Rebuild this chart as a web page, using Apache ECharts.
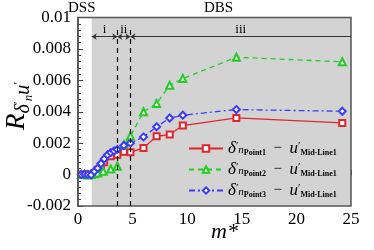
<!DOCTYPE html>
<html><head><meta charset="utf-8">
<script src="https://cdn.jsdelivr.net/npm/echarts@6/dist/echarts.min.js"></script>
<style>html,body{margin:0;padding:0;background:#fff}#c{width:374px;height:250px}</style>
</head><body><div id="c"></div>
<script>
const xTicks = [0, 5, 10, 15, 20, 25];
const yTicks = [-0.002, 0, 0.002, 0.004, 0.006, 0.008, 0.01];
const seriesNames = ['Point1', 'Point2', 'Point3'];
const mStarRed = [0.3,0.6,0.9,1.2,1.5,1.8,2.1,2.4,3.0,3.6,4.2,4.8,6.0,7.2,8.4,9.6,14.5,24.2];
const redVals  = [0,0,0.00001,0,0.0001,0.0003,0.0005,0.00078,0.00117,0.00127,0.00145,0.00142,0.0017,0.00244,0.00255,0.00312,0.00361,0.00329];
const mStarGreen = [0.3,0.6,0.9,1.2,1.5,1.8,2.3,3.0,3.6,4.2,4.8,6.0,7.2,8.4,9.6,14.5,24.2];
const greenVals  = [0,0,-0.00002,0,0.00005,0.0001,0.00021,0.00036,0.00053,0.00191,0.00245,0.004,0.00452,0.00569,0.00611,0.00747,0.00718];
const mStarBlue = [0.3,0.6,0.9,1.2,1.5,1.8,2.1,2.4,2.7,3.0,3.3,3.6,4.2,4.8,6.0,7.2,8.4,9.6,14.5,24.2];
const blueVals  = [0,0.00002,0,-0.00002,0.0002,0.0004,0.0007,0.001,0.00125,0.0014,0.0015,0.0016,0.00185,0.002,0.0024,0.00304,0.0036,0.00378,0.00414,0.00403];
const regionStart = 1.26;
const regionBounds = [3.6, 4.8];
const regionLabels = ['i', 'ii', 'iii'];
const arrowLevel = 0.00878;

const SERIF = 'Liberation Serif';
const zip = (xs, ys) => xs.map((x, i) => [x, ys[i]]);
const fmt = v => String(parseFloat(v.toFixed(4)));

const legendRich = {
  d: {fontFamily: SERIF, fontStyle: 'italic', fontSize: 17, lineHeight: 16, color: '#000'},
  pr: {fontFamily: SERIF, fontSize: 11, lineHeight: 10, color: '#000', verticalAlign: 'top'},
  n: {fontFamily: SERIF, fontStyle: 'italic', fontSize: 11, lineHeight: 10, color: '#000', verticalAlign: 'bottom', padding: [0, 0, 1, 0]},
  s: {fontFamily: SERIF, fontWeight: 'bold', fontSize: 8, lineHeight: 7, color: '#000', verticalAlign: 'bottom'},
  m: {fontFamily: SERIF, fontSize: 15, lineHeight: 16, color: '#000'},
  u: {fontFamily: SERIF, fontStyle: 'italic', fontSize: 17, lineHeight: 16, color: '#000'},
  s2: {fontFamily: SERIF, fontWeight: 'bold', fontSize: 8, lineHeight: 7, color: '#000', verticalAlign: 'bottom'}
};

const yNameRich = {
  R: {fontFamily: SERIF, fontStyle: 'italic', fontSize: 27, lineHeight: 24, color: '#000', verticalAlign: 'top'},
  d: {fontFamily: SERIF, fontStyle: 'italic', fontSize: 20, lineHeight: 18, color: '#000', verticalAlign: 'top', padding: [11, 0, 0, 0]},
  p: {fontFamily: SERIF, fontSize: 13, lineHeight: 12, color: '#000', verticalAlign: 'top', padding: [9, 0, 0, 0]},
  n: {fontFamily: SERIF, fontStyle: 'italic', fontSize: 13, lineHeight: 12, color: '#000', verticalAlign: 'top', padding: [19, 0, 0, 0]},
  u: {fontFamily: SERIF, fontStyle: 'italic', fontSize: 20, lineHeight: 18, color: '#000', verticalAlign: 'top', padding: [11, 0, 0, 0]}
};

const colors = ['#e0262b', '#22cc22', '#3b3bff'];

const chart = echarts.init(document.getElementById('c'));
chart.setOption({
  animation: false,
  grid: {left: 78, right: 23, top: 17.5, bottom: 44, show: true, z: 5,
    backgroundColor: 'transparent', borderColor: '#555', borderWidth: 1.5,
    containLabel: false, outerBoundsMode: 'none'},
  xAxis: {
    type: 'value', min: 0, max: 25, interval: 5,
    axisLine: {lineStyle: {color: '#444', width: 1.5}},
    axisTick: {inside: true, length: 5, lineStyle: {color: '#444'}},
    minorTick: {show: true, splitNumber: 5, length: 3, lineStyle: {color: '#444'}},
    splitLine: {show: false},
    axisLabel: {fontFamily: SERIF, fontSize: 17, color: '#000', margin: 5,
      formatter: v => xTicks.includes(v) ? String(v) : ''},
    name: 'm*', nameLocation: 'middle', nameGap: 15, nameMoveOverlap: false,
    nameTextStyle: {fontFamily: SERIF, fontStyle: 'italic', fontSize: 22, color: '#000', padding: [0, 0, 0, 20]}
  },
  yAxis: {
    type: 'value', min: -0.002, max: 0.01, interval: 0.002,
    axisLine: {lineStyle: {color: '#444', width: 1.5}},
    axisTick: {inside: true, length: 5, lineStyle: {color: '#444'}},
    minorTick: {show: true, splitNumber: 5, length: 3, lineStyle: {color: '#444'}},
    splitLine: {show: false},
    axisLabel: {fontFamily: SERIF, fontSize: 17, color: '#000', margin: 7,
      formatter: v => fmt(v)}
  },
  legend: {
    orient: 'vertical', left: 184, top: 140, itemWidth: 34, itemHeight: 8, itemGap: 4, padding: [0, 0, 0, 4],
    data: seriesNames,
    formatter: name => `{d|δ}{pr|′}{n|n}{s|${name}}{m|  −  }{u|u}{pr|′}{s2|Mid-Line1}`,
    textStyle: {rich: legendRich}
  },
  graphic: [
    {type: 'text', left: 68, top: 1, style: {text: 'DSS', font: '15px "Liberation Serif"', fill: '#000'}},
    {type: 'text', left: 204, top: 1, style: {text: 'DBS', font: '15px "Liberation Serif"', fill: '#000'}},
    {type: 'text', x: 15, y: 106, rotation: Math.PI / 2,
      style: {text: '{R|R}{d|δ}{p|′}{n|n}{u|u}{p|′}', rich: yNameRich, align: 'center', verticalAlign: 'middle'}}
  ],
  series: [
    {
      type: 'line', name: '_bg', data: [], z: 0, silent: true,
      markArea: {silent: true, itemStyle: {color: '#d3d3d3'}, label: {show: false},
        data: [[{coord: [regionStart, -0.002]}, {coord: [25, 0.01]}]]},
      markLine: {
        silent: true, animation: false,
        data: [
          [{coord: [regionBounds[0], -0.002], symbol: 'none'}, {coord: [regionBounds[0], 0.0093], symbol: 'none',
            lineStyle: {type: [5, 4], color: '#111', width: 1.2}, label: {show: false}}],
          [{coord: [regionBounds[1], -0.002], symbol: 'none'}, {coord: [regionBounds[1], 0.0093], symbol: 'none',
            lineStyle: {type: [5, 4], color: '#111', width: 1.2}, label: {show: false}}],
          [{coord: [regionStart, arrowLevel], symbol: 'arrow', symbolSize: 5}, {coord: [regionBounds[0], arrowLevel], symbol: 'arrow', symbolSize: 5,
            lineStyle: {type: 'solid', color: '#333', width: 1}, label: {show: true, formatter: regionLabels[0]}}],
          [{coord: [regionBounds[0], arrowLevel], symbol: 'arrow', symbolSize: 5}, {coord: [regionBounds[1], arrowLevel], symbol: 'arrow', symbolSize: 5,
            lineStyle: {type: 'solid', color: '#333', width: 1}, label: {show: true, formatter: regionLabels[1]}}],
          [{coord: [regionBounds[1], arrowLevel], symbol: 'arrow', symbolSize: 5}, {coord: [25, arrowLevel], symbol: 'none',
            lineStyle: {type: 'solid', color: '#333', width: 1}, label: {show: true, formatter: regionLabels[2]}}]
        ],
        label: {position: 'insideMiddleTop', distance: 1, fontFamily: SERIF, fontSize: 13, color: '#000'}
      }
    },
    {type: 'line', name: seriesNames[0], data: zip(mStarRed, redVals), z: 3,
      symbol: 'emptyRect', symbolSize: 6, color: colors[0],
      lineStyle: {width: 1.3, type: 'solid'}, itemStyle: {borderWidth: 1.2}},
    {type: 'line', name: seriesNames[1], data: zip(mStarGreen, greenVals), z: 3,
      symbol: 'emptyTriangle', symbolSize: 7, color: colors[1],
      lineStyle: {width: 1.3, type: [5, 4]}, itemStyle: {borderWidth: 1.2}},
    {type: 'line', name: seriesNames[2], data: zip(mStarBlue, blueVals), z: 3,
      symbol: 'emptyDiamond', symbolSize: 7, color: colors[2],
      lineStyle: {width: 1.3, type: [6, 3, 2, 3]}, itemStyle: {borderWidth: 1.2}}
  ]
});
</script></body></html>
